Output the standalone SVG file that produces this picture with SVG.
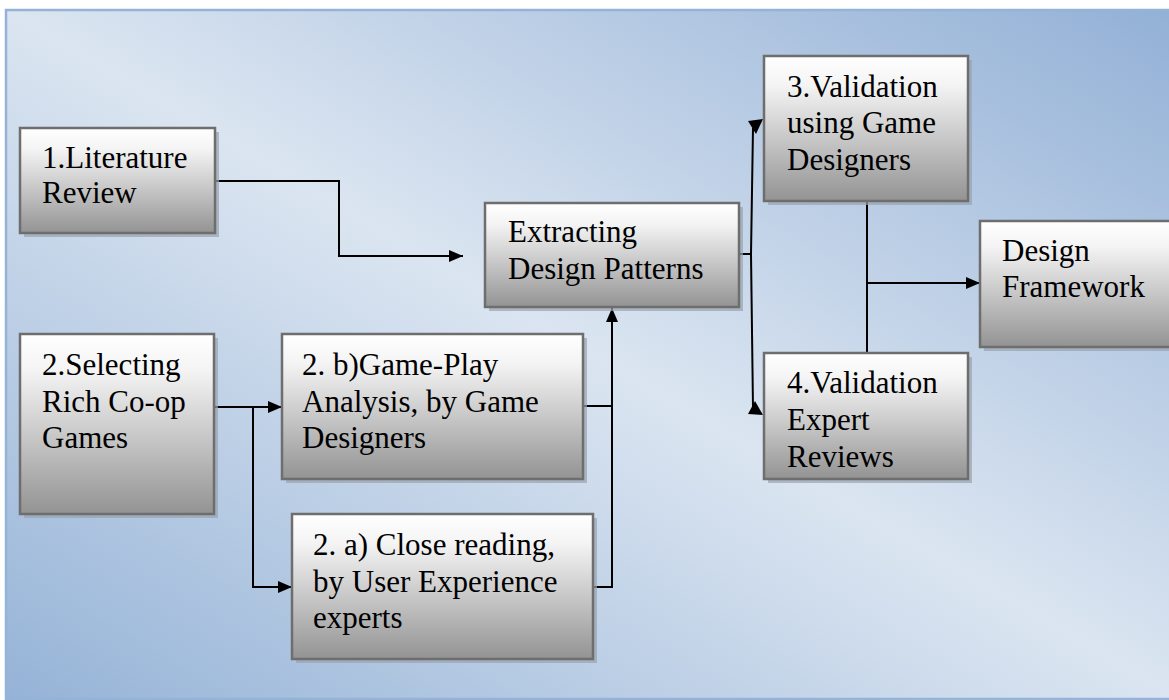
<svg xmlns="http://www.w3.org/2000/svg" width="1169" height="700" viewBox="0 0 1169 700">
  <defs>
    <linearGradient id="bg" x1="0" y1="1" x2="1" y2="0">
      <stop offset="0" stop-color="#95b3d7"/>
      <stop offset="0.5" stop-color="#dbe5f1"/>
      <stop offset="1" stop-color="#92b0d6"/>
    </linearGradient>
    <linearGradient id="boxfill" x1="0" y1="0" x2="0" y2="1">
      <stop offset="0" stop-color="#ffffff"/>
      <stop offset="0.2" stop-color="#f4f4f4"/>
      <stop offset="0.6" stop-color="#c4c4c4"/>
      <stop offset="1" stop-color="#939393"/>
    </linearGradient>
    <marker id="arr" markerUnits="userSpaceOnUse" markerWidth="15" markerHeight="13" refX="14" refY="6" orient="auto">
      <path d="M0,0 L14,6 L0,12 z" fill="#000"/>
    </marker>
  </defs>
  <style>
    .shadow { fill: #9aa3ae; opacity: 0.7; }
    .box { fill: url(#boxfill); stroke: #6e6e6e; stroke-width: 2.5; }
    .lbl { font-family: "Liberation Serif", "Times New Roman", serif; font-size: 31px; fill: #000; }
    .conn { fill: none; stroke: #000; stroke-width: 2; }
  </style>
  <rect x="0" y="0" width="1169" height="700" fill="#ffffff"/>
  <rect id="frame" x="6" y="10" width="1175" height="689" fill="url(#bg)" stroke="#95b3d7" stroke-width="2.5"/>

  <g id="connectors">
    <polyline class="conn" points="215,181 339,181 339,256 463,256" marker-end="url(#arr)"/>
    <polyline class="conn" points="214,407 282,407" marker-end="url(#arr)"/>
    <polyline class="conn" points="253,407 253,587 292,587" marker-end="url(#arr)"/>
    <polyline class="conn" points="583,406 612,406"/>
    <polyline class="conn" points="593,587 612,587 612,308" marker-end="url(#arr)"/>
    <polyline class="conn" points="739,254 751,254 753,128"/>
    <polygon points="748,121 763,119 756,134" fill="#000"/>
    <polyline class="conn" points="751,254 753,408"/>
    <polygon points="748,414 763,415 755,401" fill="#000"/>
    <polyline class="conn" points="867,201 867,353"/>
    <polyline class="conn" points="867,283 980,283" marker-end="url(#arr)"/>
  </g>

  <g id="lit">
    <rect class="shadow" x="24" y="132" width="195" height="105"/>
    <rect class="box" x="20" y="128" width="195" height="105"/>
    <text class="lbl" x="42" y="168">1.Literature</text>
    <text class="lbl" x="42" y="203">Review</text>
  </g>
  <g id="extract">
    <rect class="shadow" x="489" y="207" width="254" height="104"/>
    <rect class="box" x="485" y="203" width="254" height="104"/>
    <text class="lbl" x="508" y="242">Extracting</text>
    <text class="lbl" x="508" y="279">Design Patterns</text>
  </g>
  <g id="val3">
    <rect class="shadow" x="768" y="60" width="204" height="145"/>
    <rect class="box" x="764" y="56" width="204" height="145"/>
    <text class="lbl" x="787" y="97">3.Validation</text>
    <text class="lbl" x="787" y="133">using Game</text>
    <text class="lbl" x="787" y="170">Designers</text>
  </g>
  <g id="framework">
    <rect class="shadow" x="984" y="225" width="200" height="126"/>
    <rect class="box" x="980" y="221" width="200" height="126"/>
    <text class="lbl" x="1002" y="261">Design</text>
    <text class="lbl" x="1002" y="297">Framework</text>
  </g>
  <g id="val4">
    <rect class="shadow" x="768" y="357" width="204" height="126"/>
    <rect class="box" x="764" y="353" width="204" height="126"/>
    <text class="lbl" x="787" y="393">4.Validation</text>
    <text class="lbl" x="787" y="430">Expert</text>
    <text class="lbl" x="787" y="467">Reviews</text>
  </g>
  <g id="select">
    <rect class="shadow" x="24" y="338" width="194" height="180"/>
    <rect class="box" x="20" y="334" width="194" height="180"/>
    <text class="lbl" x="42" y="375">2.Selecting</text>
    <text class="lbl" x="42" y="412">Rich Co-op</text>
    <text class="lbl" x="42" y="448">Games</text>
  </g>
  <g id="gameplay">
    <rect class="shadow" x="286" y="338" width="301" height="145"/>
    <rect class="box" x="282" y="334" width="301" height="145"/>
    <text class="lbl" x="302" y="375">2. b)Game-Play</text>
    <text class="lbl" x="302" y="412">Analysis, by Game</text>
    <text class="lbl" x="302" y="448">Designers</text>
  </g>
  <g id="closereading">
    <rect class="shadow" x="296" y="518" width="301" height="145"/>
    <rect class="box" x="292" y="514" width="301" height="145"/>
    <text class="lbl" x="313" y="555">2. a) Close reading,</text>
    <text class="lbl" x="313" y="592">by User Experience</text>
    <text class="lbl" x="313" y="628">experts</text>
  </g>
</svg>
